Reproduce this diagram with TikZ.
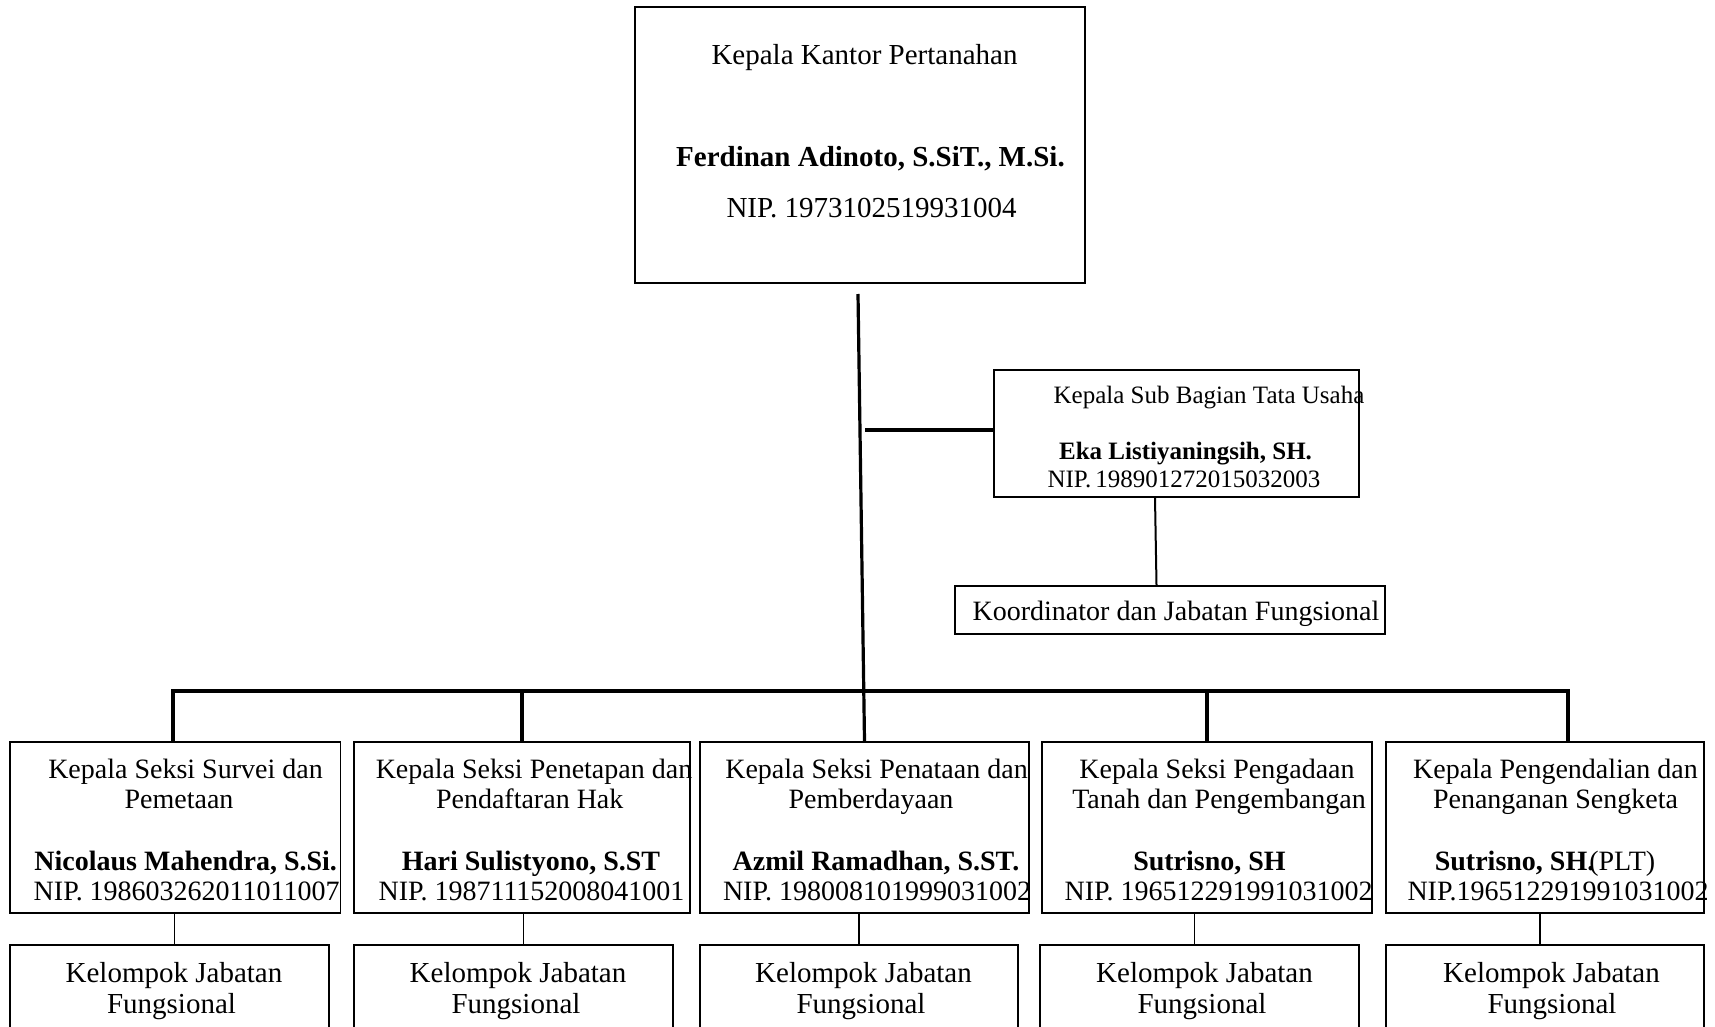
\documentclass[tikz,border=0pt]{standalone}
\usepackage{fontspec}
\setmainfont{Liberation Serif}
\begin{document}
\begin{tikzpicture}[x=1pt,y=-1pt,
  boxtop/.style={draw, line width=2.4pt, inner sep=0pt},
  box/.style={draw, line width=1.6pt, inner sep=0pt},
  bus/.style={line width=3.2pt},
  thinline/.style={line width=1.4pt},
  midline/.style={line width=2pt},
  tx/.style={anchor=base, inner sep=0pt},
  fA/.style={font=\fontsize{29}{34}\selectfont},
  fB/.style={font=\fontsize{25}{30}\selectfont},
  fC/.style={font=\fontsize{28}{33}\selectfont},
]
\clip (0,0) rectangle (1715,1027);
\fill[white] (0,0) rectangle (1715,1027);

% boxes
\node[boxtop, minimum width=450pt, minimum height=276pt] (kk) at (860,145) {};
\node[box, minimum width=365pt, minimum height=127pt] (sub) at (1176.5,433.5) {};
\node[box, minimum width=430pt, minimum height=48pt] (koord) at (1170,610) {};

\node[box, minimum width=330.6pt, minimum height=171pt] (b1) at (175.3,827.5) {};
\node[box, minimum width=336pt, minimum height=171pt] (b2) at (522,827.5) {};
\node[box, minimum width=329pt, minimum height=171pt] (b3) at (864.5,827.5) {};
\node[box, minimum width=330pt, minimum height=171pt] (b4) at (1207,827.5) {};
\node[box, minimum width=318pt, minimum height=171pt] (b5) at (1545,827.5) {};

\node[box, minimum width=319pt, minimum height=110pt] (l1) at (169.5,1000) {};
\node[box, minimum width=319pt, minimum height=110pt] (l2) at (513.5,1000) {};
\node[box, minimum width=318pt, minimum height=110pt] (l3) at (859,1000) {};
\node[box, minimum width=319pt, minimum height=110pt] (l4) at (1199.5,1000) {};
\node[box, minimum width=318pt, minimum height=110pt] (l5) at (1545,1000) {};

% connectors
\coordinate (vtop) at (858,294);
\coordinate (hstart) at (865,430);
\coordinate (busL) at (173,691);
\coordinate (busR) at (1568,691);

\draw[bus] (vtop) -- (b3.north);
\draw[bus] (hstart) -- (hstart -| sub.west);
\draw[bus, line cap=rect] (busL) -- (busR);
\draw[bus] (busL) -- (busL |- b1.north);
\draw[bus] (b2.north |- busL) -- (b2.north);
\draw[bus] (b4.north |- busL) -- (b4.north);
\draw[bus] (busR) -- (busR |- b5.north);
\draw[midline] ([xshift=-21.5pt]sub.south) -- ([xshift=-13.5pt]koord.north);

\draw[thinline] ([xshift=-1pt]b1.south) -- ([xshift=-1pt]b1.south |- l1.north);
\draw[thinline] ([xshift=1.5pt]b2.south) -- ([xshift=1.5pt]b2.south |- l2.north);
\draw[thinline] (l3.north |- b3.south) -- (l3.north);
\draw[thinline] ([xshift=-5pt]l4.north |- b4.south) -- ([xshift=-5pt]l4.north);
\draw[thinline] ([xshift=-5pt]b5.south) -- ([xshift=-5pt]b5.south |- l5.north);

% top box text
\node[tx, fA] (kk1) at (864.5,65) {Kepala Kantor Pertanahan};
\node[tx, fA] (kk2) at (870.5,167) {\textbf{Ferdinan Adinoto, S.SiT., M.Si.}};
\node[tx, fA] (kk3) at (871.5,217) {NIP. 1973102519931004};

% sub box text
\node[tx, fB] (s1) at (1209,403) {Kepala Sub Bagian Tata Usaha};
\node[tx, fB] (s2) at (1185.5,459) {\textbf{Eka Listiyaningsih, SH.}};
\node[tx, fB] (s3) at (1184,487) {NIP.\,198901272015032003};

\node[tx, fC] (k1) at (1176,620) {Koordinator dan Jabatan Fungsional};

% bottom row
\node[tx, fC] (b1a) at (185.5,778) {Kepala Seksi Survei dan};
\node[tx, fC] (b1b) at (179,808) {Pemetaan};
\node[tx, fC] (b1c) at (185.7,870) {\textbf{Nicolaus Mahendra, S.Si.}};
\node[tx, fC] (b1d) at (186.7,900) {NIP. 198603262011011007};

\node[tx, fC] (b2a) at (534,778) {Kepala Seksi Penetapan dan};
\node[tx, fC] (b2b) at (529.7,808) {Pendaftaran Hak};
\node[tx, fC] (b2c) at (531,870) {\textbf{Hari Sulistyono, S.ST}};
\node[tx, fC] (b2d) at (531.5,900) {NIP. 198711152008041001};

\node[tx, fC] (b3a) at (876.5,778) {Kepala Seksi Penataan dan};
\node[tx, fC] (b3b) at (871,808) {Pemberdayaan};
\node[tx, fC] (b3c) at (876,870) {\textbf{Azmil Ramadhan, S.ST.}};
\node[tx, fC] (b3d) at (877,900) {NIP. 198008101999031002};

\node[tx, fC] (b4a) at (1217,778) {Kepala Seksi Pengadaan};
\node[tx, fC] (b4b) at (1219,808) {Tanah dan Pengembangan};
\node[tx, fC] (b4c) at (1209.5,870) {\textbf{Sutrisno, SH}};
\node[tx, fC] (b4d) at (1218.6,900) {NIP. 196512291991031002};

\node[tx, fC] (b5a) at (1555.5,778) {Kepala Pengendalian dan};
\node[tx, fC] (b5b) at (1555.5,808) {Penanganan Sengketa};
\node[tx, fC] (b5c) at (1545,870) {\textbf{Sutrisno, SH.}\kern-5pt(PLT)};
\node[tx, fC] (b5d) at (1558,900) {NIP.196512291991031002};

% lower boxes
\node[tx, fA] (l1a) at (174,982) {Kelompok Jabatan};
\node[tx, fA] (l1b) at (171.5,1013) {Fungsional};
\node[tx, fA] (l2a) at (518,982) {Kelompok Jabatan};
\node[tx, fA] (l2b) at (516,1013) {Fungsional};
\node[tx, fA] (l3a) at (863.5,982) {Kelompok Jabatan};
\node[tx, fA] (l3b) at (861,1013) {Fungsional};
\node[tx, fA] (l4a) at (1204.5,982) {Kelompok Jabatan};
\node[tx, fA] (l4b) at (1202,1013) {Fungsional};
\node[tx, fA] (l5a) at (1551.5,982) {Kelompok Jabatan};
\node[tx, fA] (l5b) at (1552,1013) {Fungsional};
\end{tikzpicture}
\end{document}
